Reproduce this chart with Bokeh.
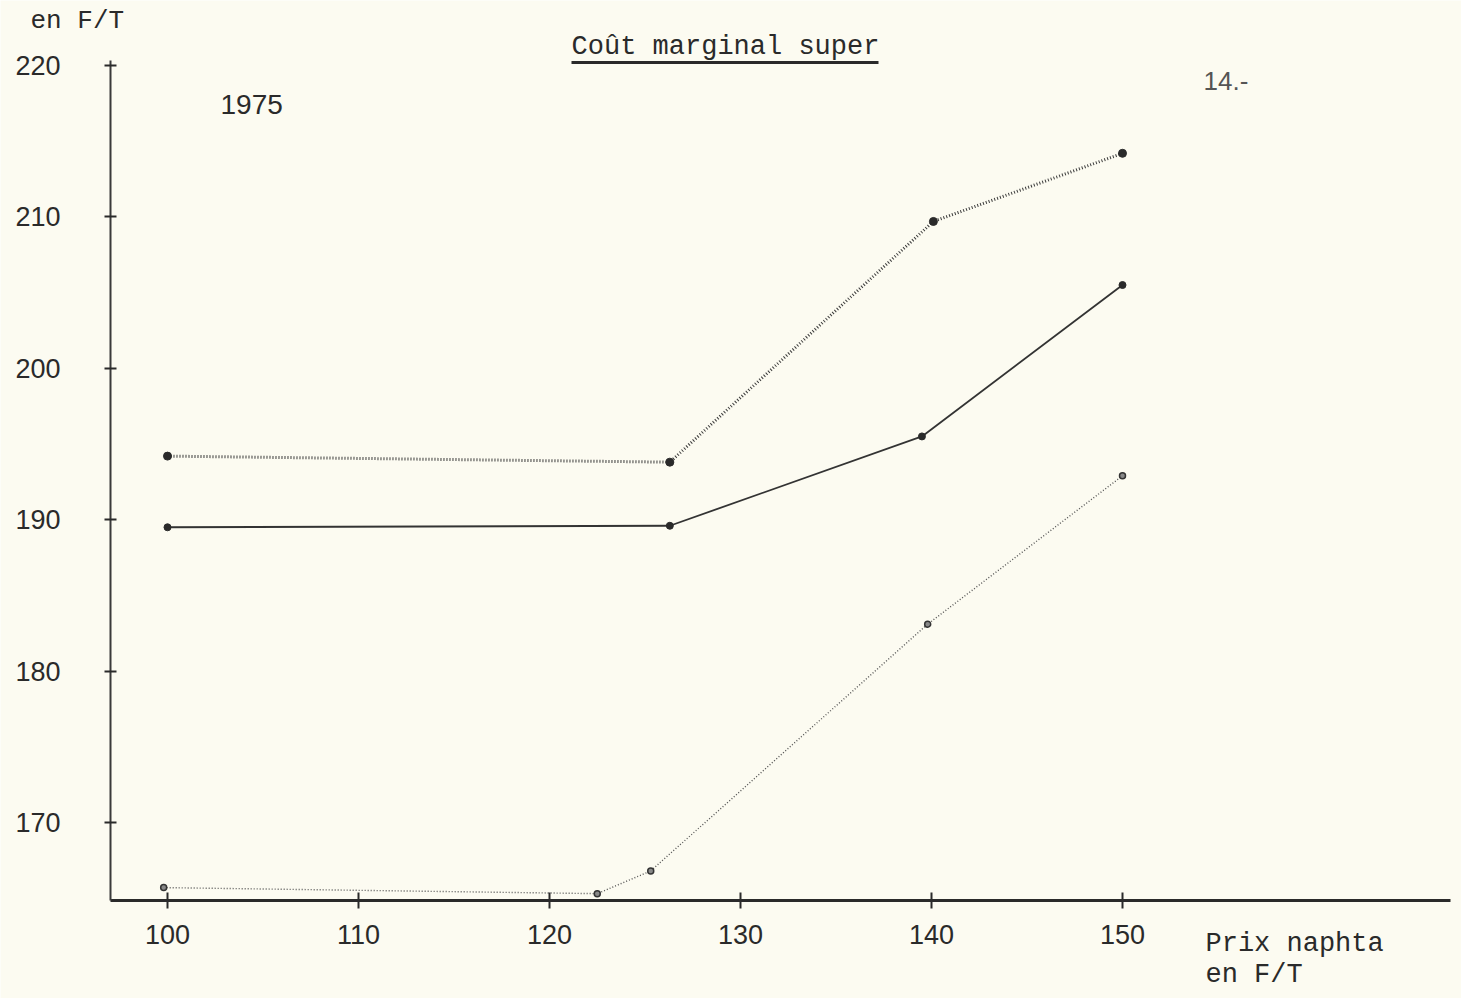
from bokeh.plotting import figure
from bokeh.models import Label, Range1d, FixedTicker, Segment, ColumnDataSource, LinearAxis
from bokeh.embed import file_html
from bokeh.resources import INLINE

# ---- data ----
x_top = [100, 126.3, 140.1, 150]
y_top = [194.2, 193.8, 209.7, 214.2]

x_mid = [100, 126.3, 139.5, 150]
y_mid = [189.5, 189.6, 195.5, 205.5]

x_low = [99.8, 122.5, 125.3, 139.8, 150]
y_low = [165.7, 165.3, 166.8, 183.1, 192.9]

x_ticks = [100, 110, 120, 130, 140, 150]
y_ticks = [170, 180, 190, 200, 210, 220]

title_text = "Coût marginal super"
y_unit_text = "en F/T"
year_text = "1975"
page_text = "14.-"
x_label_1 = "Prix naphta"
x_label_2 = "en F/T"

# ---- page-pixel -> data helpers (for placing annotations only) ----
X0, XS = 167.0, 19.1   # page px of x=100, px per unit
Y0, YS = 65.0, 15.14   # page px of y=220, px per unit


def px(p):
    return 100 + (p - X0) / XS


def py(p):
    return 220 - (p - Y0) / YS


W, H = 1461, 998
axis_x_px, axis_y_px = 110, 900

p = figure(width=W, height=H, output_backend="svg", toolbar_location=None,
           x_range=Range1d(px(0), px(W)), y_range=Range1d(py(H), py(0)),
           x_axis_location=None, y_axis_location=None,
           min_border=0, min_border_left=0, min_border_right=0,
           min_border_top=0, min_border_bottom=0)

bg = "#fcfbf1"
p.background_fill_color = bg
p.border_fill_color = bg
p.outline_line_color = None
p.xgrid.visible = False
p.ygrid.visible = False

ink = "#2a2a2a"
sans = "Liberation Sans"
mono = "Liberation Mono"

# axes
xa = LinearAxis(fixed_location=py(axis_y_px), ticker=FixedTicker(ticks=x_ticks),
                bounds=(px(axis_x_px), px(1450)))
xa.axis_line_width = 3
xa.axis_line_color = ink
xa.major_tick_in = 8
xa.major_tick_out = 8
xa.major_tick_line_width = 2
xa.major_tick_line_color = ink
xa.minor_tick_line_color = None
xa.major_label_text_font = sans
xa.major_label_text_font_size = "27px"
xa.major_label_text_color = ink
xa.major_label_standoff = 16
p.add_layout(xa, "below")

ya = LinearAxis(fixed_location=px(axis_x_px), ticker=FixedTicker(ticks=y_ticks),
                bounds=(py(axis_y_px), py(60)))
ya.axis_line_width = 2
ya.axis_line_color = "#3a3a3a"
ya.major_tick_in = 6
ya.major_tick_out = 6
ya.major_tick_line_width = 2
ya.major_tick_line_color = ink
ya.minor_tick_line_color = None
ya.major_label_text_font = sans
ya.major_label_text_font_size = "27px"
ya.major_label_text_color = ink
ya.major_label_standoff = 44
p.add_layout(ya, "left")

# series
p.line(x_top, y_top, line_color="#3a3a3a", line_width=3, line_dash="1 2")
p.scatter(x_top, y_top, size=8, color="#2a2a2a")

p.line(x_mid, y_mid, line_color="#333333", line_width=1.8)
p.scatter(x_mid, y_mid, size=7, color="#2a2a2a")

p.line(x_low, y_low, line_color="#555555", line_width=1.4, line_dash="1 2")
p.scatter(x_low, y_low, size=6, fill_color="#888888", line_color="#333333", line_width=1.5)

# texts
p.add_layout(Label(x=px(725), y=py(46), text=title_text, text_font=mono,
                   text_font_size="27px", text_color=ink,
                   text_align="center", text_baseline="middle"))
src_ul = ColumnDataSource(dict(x0=[px(571)], y0=[py(62)], x1=[px(878)], y1=[py(62)]))
p.add_glyph(src_ul, Segment(x0="x0", y0="y0", x1="x1", y1="y1",
                            line_color=ink, line_width=3))

p.add_layout(Label(x=px(30), y=py(20), text=y_unit_text, text_font=mono,
                   text_font_size="26px", text_color=ink,
                   text_align="left", text_baseline="middle"))
p.add_layout(Label(x=px(220), y=py(104), text=year_text, text_font=sans,
                   text_font_size="28px", text_color=ink,
                   text_align="left", text_baseline="middle"))
p.add_layout(Label(x=px(1203), y=py(80), text=page_text, text_font=sans,
                   text_font_size="26px", text_color="#555555",
                   text_align="left", text_baseline="middle"))
p.add_layout(Label(x=px(1205), y=py(943), text=x_label_1, text_font=mono,
                   text_font_size="27px", text_color=ink,
                   text_align="left", text_baseline="middle"))
p.add_layout(Label(x=px(1205), y=py(974), text=x_label_2, text_font=mono,
                   text_font_size="27px", text_color=ink,
                   text_align="left", text_baseline="middle"))

open("out.html", "w").write(file_html(p, INLINE))
